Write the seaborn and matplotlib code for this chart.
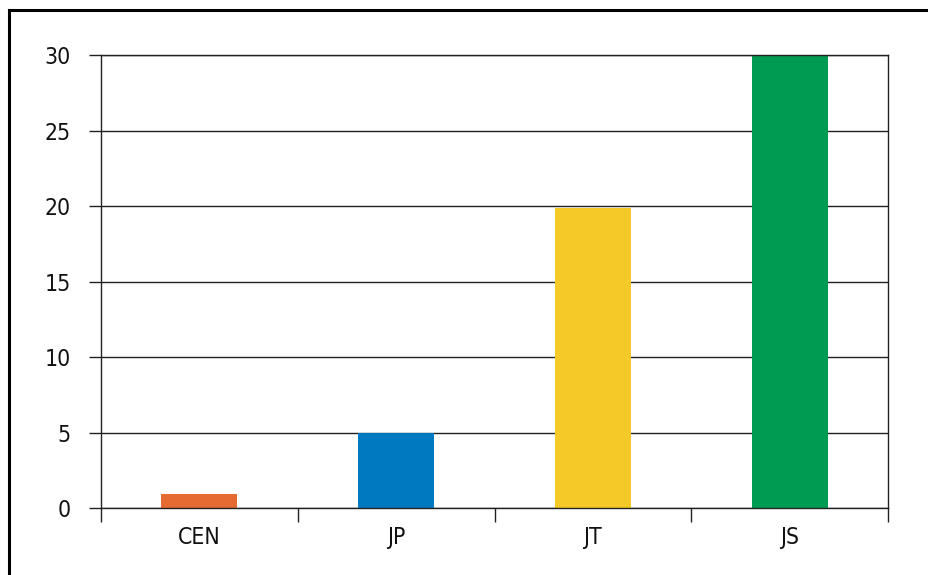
import matplotlib
matplotlib.use("Agg")
import matplotlib.pyplot as plt
import seaborn as sns
import pandas as pd
from matplotlib.lines import Line2D

categories = ["CEN", "JP", "JT", "JS"]
values = [0.9, 5, 19.9, 30]
colors = ["#E56B33", "#0079C1", "#F4C928", "#009B53"]
yticks = [0, 5, 10, 15, 20, 25, 30]

sns.set_theme(style="white")
plt.rcParams['font.family'] = ['DejaVu Sans']
plt.rcParams['font.stretch'] = 'condensed'

df = pd.DataFrame({"cat": categories, "val": values})

fig = plt.figure(figsize=(9.29, 5.75), dpi=100)
ax = fig.add_axes([0.1087, 0.1165, 0.9559 - 0.1087, 0.9043 - 0.1165])

sns.barplot(data=df, x="cat", y="val", hue="cat", palette=colors, order=categories,
            hue_order=categories, width=0.385, saturation=1, legend=False,
            linewidth=0, ax=ax)

ax.set_xlim(-0.5, len(categories) - 0.5)
ax.set_ylim(0, 30)
ax.set_yticks(yticks)
ax.set_yticklabels([str(t) for t in yticks])
ax.set_axisbelow(True)
ax.yaxis.grid(True, color="#222222", linewidth=1.0)
ax.xaxis.grid(False)
ax.set_xlabel("")
ax.set_ylabel("")

# category boundary ticks
ax.set_xticks([i - 0.5 for i in range(len(categories) + 1)], minor=True)
ax.tick_params(axis="x", which="minor", length=10, width=1.0, color="#222222", direction="out", bottom=True)
ax.tick_params(axis="x", which="major", length=0, pad=13, labelsize=16.5, labelcolor="#111111")
ax.tick_params(axis="y", which="major", length=8.6, width=1.0, color="#222222", direction="out",
               left=True, pad=13, labelsize=16.5, labelcolor="#111111")

for side in ["left", "right", "top", "bottom"]:
    ax.spines[side].set_visible(True)
    ax.spines[side].set_color("#222222")
    ax.spines[side].set_linewidth(1.0)

# outer frame (top and left visible)
fig.add_artist(Line2D([9 / 929, 9 / 929], [0, 1 - 10 / 575], transform=fig.transFigure,
                      color="black", linewidth=2.2, solid_capstyle="projecting"))
fig.add_artist(Line2D([9 / 929, 1], [1 - 10 / 575, 1 - 10 / 575], transform=fig.transFigure,
                      color="black", linewidth=2.2, solid_capstyle="projecting"))

fig.savefig("out.png", dpi=100, facecolor="white")
